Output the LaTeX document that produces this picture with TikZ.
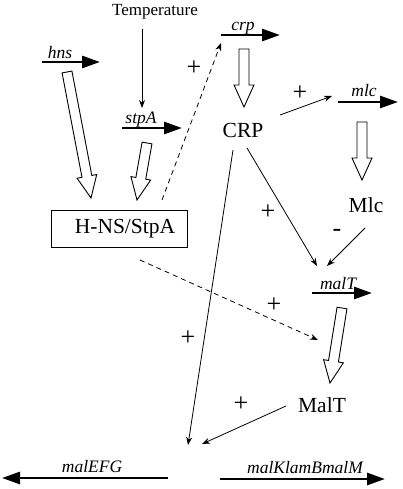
\documentclass[tikz,border=0pt]{standalone}
\usepackage{fontspec}
\setmainfont{Liberation Serif}
\usetikzlibrary{arrows.meta,calc}

\tikzset{
  gene/.style={line width=2.8pt, -{Triangle[length=18pt,width=12pt]}},
  sig/.style={line width=0.8pt, -{Stealth[length=8pt,width=6pt]}},
  dsig/.style={sig, dash pattern=on 5pt off 4pt},
  openarr/.style={draw, fill=white, line width=0.9pt, line join=miter},
  small/.style={font=\fontsize{17}{20}\selectfont},
  genelbl/.style={small, font=\fontsize{17.5}{20}\selectfont\itshape, anchor=base, inner sep=0pt},
  big/.style={font=\fontsize{21.5}{24}\selectfont},
  sign/.style={font=\fontsize{26}{28}\selectfont, inner sep=0pt},
}
% hollow arrow from #1 (tail) to #2 (tip)
\newcommand\openarrow[2]{%
  \coordinate (neck) at ($(#2)!22pt!(#1)$);
  \draw[openarr] ($(#1)!5pt!90:(#2)$) -- ($(neck)!5pt!90:(#2)$) -- ($(neck)!10pt!90:(#2)$) -- (#2)
    -- ($(neck)!10pt!-90:(#2)$) -- ($(neck)!5pt!-90:(#2)$) -- ($(#1)!5pt!-90:(#2)$) -- cycle;}

\begin{document}
\begin{tikzpicture}[x=1pt, y=-1pt]
  \useasboundingbox (0,0) rectangle (402,489);

  % genes
  \coordinate (hns-s) at (42,62);      \coordinate (hns-e) at (100,62);
  \coordinate (stpA-s) at (122,128);   \coordinate (stpA-e) at (182,128);
  \coordinate (crp-s) at (221,35);     \coordinate (crp-e) at (280,35);
  \coordinate (mlc-s) at (338,102);    \coordinate (mlc-e) at (398,102);
  \coordinate (malT-s) at (312,293);   \coordinate (malT-e) at (372,293);
  \coordinate (malEFG-s) at (168,478); \coordinate (malEFG-e) at (2,478);
  \coordinate (malK-s) at (220,479);   \coordinate (malK-e) at (385,479);
  \draw[gene] (hns-s) -- (hns-e);
  \draw[gene] (stpA-s) -- (stpA-e);
  \draw[gene] (crp-s) -- (crp-e);
  \draw[gene] (mlc-s) -- (mlc-e);
  \draw[gene] (malT-s) -- (malT-e);
  \draw[gene] (malEFG-s) -- (malEFG-e);
  \draw[gene] (malK-s) -- (malK-e);
  \node[genelbl] (hns) at (60,59) {hns};
  \node[genelbl] (stpA) at (141,124) {stpA};
  \node[genelbl] (crp) at (243,31) {crp};
  \node[genelbl] (mlc) at (364,97) {mlc};
  \node[genelbl] (malT) at (338,289) {malT};
  \node[genelbl] (malEFG) at (92,472) {malEFG};
  \node[genelbl] (malK) at (305,473) {malKlamBmalM};

  % proteins
  \node[small] (temp) at (155,12) {Temperature};
  \node[big, draw, line width=0.9pt, minimum width=136pt, minimum height=37pt, inner sep=0pt] (hnsstpa) at (119,228.5) {\hspace*{12pt}H-NS/StpA};
  \node[big] (CRP) at (243,130) {CRP};
  \node[big] (Mlc) at (366,205) {Mlc};
  \node[big] (MalT) at (322,405) {MalT};

  % translation
  \coordinate (o1a) at (67,72);   \coordinate (o1b) at (91,198);
  \coordinate (o2a) at (147,143); \coordinate (o2b) at (137,200);
  \coordinate (o3a) at (244,49);  \coordinate (o3b) at (244,107);
  \coordinate (o4a) at (362,122); \coordinate (o4b) at (362,180);
  \coordinate (o5a) at (342,308); \coordinate (o5b) at (330,383);
  \openarrow{o1a}{o1b}
  \openarrow{o2a}{o2b}
  \openarrow{o3a}{o3b}
  \openarrow{o4a}{o4b}
  \openarrow{o5a}{o5b}

  % regulation
  \coordinate (temp-o) at (142,29);   \coordinate (stpA-i) at (142,108);
  \coordinate (CRP-o1) at (280,115);  \coordinate (mlc-i) at (332,96);
  \coordinate (CRP-o2) at (247,148);  \coordinate (malT-i1) at (317,266);
  \coordinate (Mlc-o) at (365,228);   \coordinate (malT-i2) at (327,266);
  \coordinate (CRP-o3) at (233,150);  \coordinate (malEFG-i) at (188,445);
  \coordinate (MalT-o) at (286,406);  \coordinate (malK-i) at (202,444);
  \coordinate (hs-o1) at (162,200);   \coordinate (crp-i) at (221,43);
  \coordinate (hs-o2) at (140,260);   \coordinate (MalT-i) at (318,340);
  \draw[sig] (temp-o) -- (stpA-i);
  \draw[sig] (CRP-o1) -- (mlc-i);
  \draw[sig] (CRP-o2) -- (malT-i1);
  \draw[sig] (Mlc-o) -- (malT-i2);
  \draw[sig] (CRP-o3) -- (malEFG-i);
  \draw[sig] (MalT-o) -- (malK-i);
  \draw[dsig] (hs-o1) -- (crp-i);
  \draw[dsig] (hs-o2) -- (MalT-i);

  \node[sign] (s1) at (194,68) {+};
  \node[sign] (s2) at (300,93) {+};
  \node[sign] (s3) at (268,212) {+};
  \node[sign] (s4) at (337,233) {-};
  \node[sign] (s5) at (274,305) {+};
  \node[sign] (s6) at (188,338) {+};
  \node[sign] (s7) at (241,404) {+};
\end{tikzpicture}
\end{document}
